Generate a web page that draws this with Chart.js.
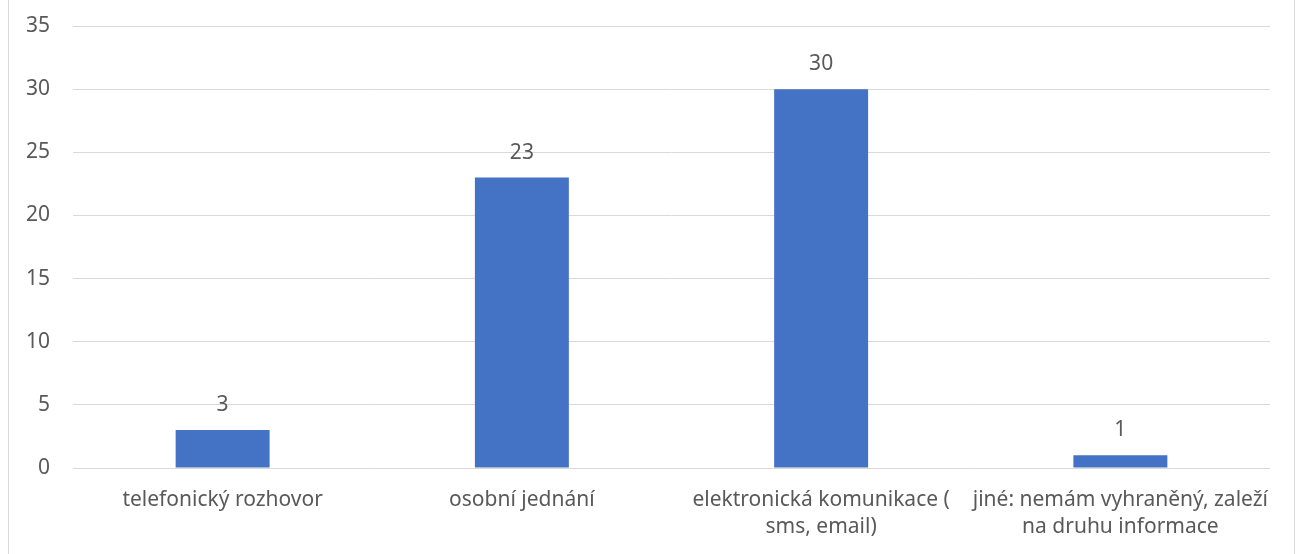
<!DOCTYPE html>
<html>
<head>
<meta charset="utf-8">
<script src="https://cdn.jsdelivr.net/npm/chart.js@4.4.1/dist/chart.umd.min.js"></script>
<style>
  html, body { margin: 0; padding: 0; background: #fff; overflow: hidden; }
  #frame { position: absolute; left: 8px; top: -10px; width: 1285px; height: 600px; border: 1px solid #d9d9d9; }
  #wrap { position: absolute; left: 0; top: 0; width: 1300px; height: 554px; }
</style>
</head>
<body>
<div id="frame"></div>
<div id="wrap"><canvas id="c"></canvas></div>
<script>
// categories and values
const categories = [
  'telefonický rozhovor',
  'osobní jednání',
  ['elektronická komunikace (', 'sms, email)'],
  ['jiné: nemám vyhraněný, zaleží', 'na druhu informace'],
];
const counts = [3, 23, 30, 1];
const yTicks = [0, 5, 10, 15, 20, 25, 30, 35];

const FONT = '"Noto Sans", "Open Sans", sans-serif';
const INK = '#595959';
const FS = 21;

// value labels above bars
const barValues = {
  id: 'barValues',
  afterDatasetsDraw(chart) {
    const { ctx } = chart;
    const meta = chart.getDatasetMeta(0);
    ctx.save();
    ctx.font = FS + 'px ' + FONT;
    ctx.fillStyle = INK;
    ctx.textAlign = 'center';
    ctx.textBaseline = 'middle';
    meta.data.forEach((bar, i) => {
      ctx.fillText(String(counts[i]), bar.x, bar.y - 25);
    });
    ctx.restore();
  },
};

new Chart(document.getElementById('c'), {
  type: 'bar',
  data: {
    labels: categories,
    datasets: [{
      data: counts,
      backgroundColor: '#4472C4',
      barPercentage: 0.314,
      categoryPercentage: 1,
    }],
  },
  options: {
    responsive: true,
    maintainAspectRatio: false,
    animation: false,
    layout: { padding: { top: 26, right: 30, left: 0, bottom: 0 } },
    plugins: { legend: { display: false }, tooltip: { enabled: false } },
    scales: {
      x: {
        grid: { display: false, drawTicks: false },
        border: { display: false },
        ticks: {
          color: INK, font: { family: FONT, size: FS, lineHeight: 1.3 },
          padding: 18, maxRotation: 0, autoSkip: false,
        },
        afterFit: (s) => { s.height = 86; s.paddingLeft = 0; s.paddingRight = 0; },
      },
      y: {
        min: 0, max: 35,
        afterBuildTicks: (s) => { s.ticks = yTicks.map((v) => ({ value: v })); },
        grid: { color: '#d9d9d9', lineWidth: 1, drawTicks: false },
        border: { display: false },
        ticks: { color: INK, font: { family: FONT, size: FS }, padding: 23 },
        afterFit: (s) => { s.width = 73; s.paddingTop = 0; s.paddingBottom = 0; },
      },
    },
  },
  plugins: [barValues],
});
</script>
</body>
</html>
